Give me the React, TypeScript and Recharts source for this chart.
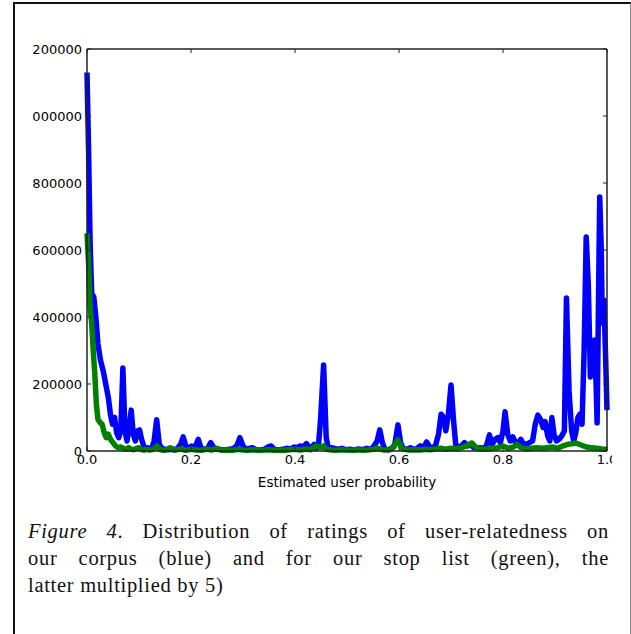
import React from 'react';
import { LineChart, Line, XAxis, YAxis } from 'recharts';

// x positions are estimated user probability, counts read off the figure
const xTicks = [0, 0.2, 0.4, 0.6, 0.8, 1.0];
const yTicks = [0, 200000, 400000, 600000, 800000, 1000000, 1200000];

const blueX = [
  0.000, 0.003, 0.006, 0.009, 0.013, 0.017, 0.021, 0.026, 0.031, 0.036,
  0.041, 0.045, 0.049, 0.053, 0.057, 0.061, 0.065, 0.069, 0.073, 0.077,
  0.081, 0.085, 0.089, 0.093, 0.097, 0.101, 0.105, 0.109, 0.113, 0.117,
  0.121, 0.125, 0.129, 0.134, 0.139, 0.144, 0.150, 0.156, 0.162, 0.168,
  0.174, 0.180, 0.185, 0.190, 0.196, 0.201, 0.207, 0.214, 0.219, 0.225,
  0.232, 0.238, 0.244, 0.250, 0.258, 0.266, 0.274, 0.282, 0.288, 0.294,
  0.300, 0.306, 0.312, 0.318, 0.325, 0.333, 0.341, 0.348, 0.354, 0.360,
  0.368, 0.376, 0.384, 0.392, 0.398, 0.404, 0.410, 0.416, 0.422, 0.428,
  0.433, 0.437, 0.441, 0.445, 0.449, 0.455, 0.460, 0.464, 0.470, 0.476,
  0.482, 0.490, 0.498, 0.506, 0.514, 0.522, 0.530, 0.538, 0.546, 0.552,
  0.558, 0.563, 0.568, 0.573, 0.580, 0.587, 0.592, 0.598, 0.603, 0.608,
  0.615, 0.622, 0.628, 0.635, 0.641, 0.646, 0.653, 0.659, 0.664, 0.670,
  0.676, 0.681, 0.686, 0.690, 0.695, 0.700, 0.705, 0.709, 0.714, 0.720,
  0.726, 0.732, 0.738, 0.744, 0.750, 0.756, 0.762, 0.768, 0.774, 0.779,
  0.785, 0.790, 0.795, 0.800, 0.804, 0.809, 0.814, 0.819, 0.824, 0.829,
  0.834, 0.839, 0.845, 0.851, 0.857, 0.862, 0.867, 0.872, 0.877, 0.881,
  0.886, 0.890, 0.894, 0.898, 0.903, 0.908, 0.913, 0.918, 0.922, 0.927,
  0.932, 0.936, 0.940, 0.944, 0.948, 0.952, 0.956, 0.960, 0.964, 0.968,
  0.972, 0.976, 0.979, 0.981, 0.984, 0.986, 0.989, 0.991, 0.994, 0.997,
  1.000,
];
const blueCounts = [
  1130000, 900000, 620000, 470000, 460000, 400000, 320000, 270000, 240000, 200000,
  160000, 110000, 80000, 100000, 55000, 40000, 60000, 248000, 60000, 30000,
  70000, 122000, 50000, 30000, 60000, 63000, 35000, 15000, 8000, 10000,
  5000, 8000, 30000, 93000, 20000, 8000, 5000, 4000, 5000, 3000,
  8000, 20000, 42000, 15000, 8000, 15000, 8000, 35000, 10000, 5000,
  8000, 25000, 10000, 5000, 4000, 3000, 5000, 8000, 15000, 40000,
  15000, 5000, 8000, 10000, 4000, 3000, 5000, 12000, 15000, 5000,
  3000, 5000, 8000, 6000, 12000, 10000, 15000, 12000, 22000, 10000,
  12000, 20000, 8000, 15000, 90000, 257000, 40000, 8000, 10000, 8000,
  5000, 8000, 4000, 5000, 3000, 6000, 4000, 8000, 5000, 15000,
  30000, 63000, 25000, 5000, 3000, 8000, 20000, 78000, 25000, 8000,
  5000, 10000, 5000, 8000, 15000, 5000, 27000, 12000, 10000, 15000,
  50000, 110000, 100000, 60000, 110000, 197000, 90000, 20000, 10000, 15000,
  25000, 15000, 18000, 10000, 8000, 10000, 8000, 15000, 48000, 20000,
  35000, 40000, 25000, 60000, 117000, 50000, 30000, 42000, 25000, 20000,
  35000, 22000, 20000, 25000, 30000, 80000, 107000, 95000, 70000, 88000,
  45000, 30000, 100000, 50000, 30000, 35000, 45000, 60000, 457000, 180000,
  60000, 30000, 55000, 100000, 110000, 80000, 300000, 639000, 500000, 221000,
  300000, 331000, 200000, 84000, 500000, 758000, 600000, 382000, 451000, 300000,
  122000,
];

// stop list, already multiplied by 5
const greenX = [
  0.000, 0.003, 0.006, 0.009, 0.012, 0.015, 0.018, 0.021, 0.025, 0.029,
  0.033, 0.037, 0.041, 0.045, 0.050, 0.055, 0.060, 0.065, 0.070, 0.075,
  0.080, 0.085, 0.090, 0.095, 0.100, 0.105, 0.110, 0.115, 0.120, 0.125,
  0.130, 0.135, 0.140, 0.145, 0.150, 0.160, 0.170, 0.180, 0.190, 0.200,
  0.210, 0.220, 0.230, 0.240, 0.250, 0.260, 0.270, 0.280, 0.290, 0.300,
  0.310, 0.320, 0.330, 0.340, 0.350, 0.360, 0.370, 0.380, 0.390, 0.400,
  0.410, 0.420, 0.430, 0.440, 0.450, 0.455, 0.460, 0.470, 0.480, 0.490,
  0.500, 0.510, 0.520, 0.530, 0.540, 0.550, 0.560, 0.570, 0.580, 0.590,
  0.598, 0.605, 0.610, 0.620, 0.630, 0.640, 0.650, 0.660, 0.670, 0.680,
  0.690, 0.700, 0.710, 0.720, 0.730, 0.740, 0.750, 0.760, 0.770, 0.780,
  0.790, 0.800, 0.810, 0.820, 0.826, 0.835, 0.845, 0.855, 0.865, 0.875,
  0.885, 0.895, 0.905, 0.915, 0.925, 0.935, 0.940, 0.950, 0.960, 0.970,
  0.980, 0.990, 1.000,
];
const greenCounts = [
  650000, 560000, 430000, 380000, 300000, 230000, 140000, 95000, 85000, 80000,
  55000, 40000, 50000, 35000, 25000, 15000, 10000, 12000, 8000, 5000,
  10000, 5000, 4000, 8000, 10000, 4000, 3000, 5000, 3000, 4000,
  8000, 15000, 5000, 3000, 2000, 10000, 3000, 6000, 2000, 5000,
  3000, 2000, 6000, 3000, 8000, 2000, 3000, 2000, 5000, 3000,
  2000, 4000, 2000, 3000, 4000, 2000, 3000, 2000, 4000, 5000,
  3000, 6000, 4000, 15000, 10000, 15000, 5000, 3000, 2000, 4000,
  3000, 2000, 4000, 2000, 3000, 5000, 8000, 3000, 4000, 12000,
  33000, 10000, 5000, 3000, 4000, 3000, 5000, 4000, 6000, 8000,
  5000, 8000, 6000, 10000, 15000, 24000, 8000, 5000, 6000, 8000,
  10000, 15000, 8000, 12000, 20000, 10000, 6000, 8000, 10000, 8000,
  10000, 12000, 8000, 15000, 20000, 22000, 24000, 18000, 12000, 10000,
  8000, 6000, 5000,
];

const corpusData = blueX.map((x, i) => ({ x, y: blueCounts[i] }));
const stopData = greenX.map((x, i) => ({ x, y: greenCounts[i] }));

const frame = '#222';
const tickFont = { fontFamily: '"DejaVu Sans", sans-serif', fontSize: 13, fill: '#000' };

export default function App() {
  return (
    <>
      <div
        style={{
          position: 'absolute',
          left: 13,
          top: 2,
          width: 615,
          height: 632,
          borderLeft: '2px solid #111',
          borderTop: '2px solid #111',
          borderRight: '1px solid #888',
          background: '#fff',
        }}
      />
      <div style={{ position: 'absolute', left: 33, top: 20, width: 579, height: 480, overflow: 'hidden' }}>
        <div style={{ position: 'absolute', left: -33, top: -20 }}>
          <LineChart width={631} height={500} margin={{ top: 48, right: 23, left: 0, bottom: 9 }}>
            <XAxis
              xAxisId="b"
              dataKey="x"
              type="number"
              domain={[0, 1]}
              ticks={xTicks}
              interval={0}
              tickFormatter={(v: number) => v.toFixed(1)}
              tickSize={-4}
              tickMargin={8}
              height={40}
              axisLine={{ stroke: frame, strokeWidth: 1.5 }}
              tickLine={{ stroke: frame }}
              tick={tickFont}
              label={{
                value: 'Estimated user probability',
                position: 'insideBottom',
                offset: 4,
                style: { fontFamily: '"DejaVu Sans", sans-serif', fontSize: 13.5, fill: '#000' },
              }}
            />
            <XAxis
              xAxisId="t"
              orientation="top"
              dataKey="x"
              type="number"
              domain={[0, 1]}
              ticks={xTicks}
              interval={0}
              tickFormatter={() => ''}
              tickSize={-4}
              height={1}
              axisLine={{ stroke: frame, strokeWidth: 1.5 }}
              tickLine={{ stroke: frame }}
            />
            <YAxis
              yAxisId="l"
              type="number"
              domain={[0, 1200000]}
              ticks={yTicks}
              interval={0}
              tickSize={-4}
              tickMargin={9}
              width={87}
              axisLine={{ stroke: frame, strokeWidth: 1.5 }}
              tickLine={{ stroke: frame }}
              tick={tickFont}
            />
            <YAxis
              yAxisId="r"
              orientation="right"
              type="number"
              domain={[0, 1200000]}
              ticks={yTicks}
              interval={0}
              tickFormatter={() => ''}
              tickSize={-4}
              width={1}
              axisLine={{ stroke: frame, strokeWidth: 1.5 }}
              tickLine={{ stroke: frame }}
            />
            <Line
              xAxisId="b"
              yAxisId="l"
              data={corpusData}
              dataKey="y"
              type="linear"
              stroke="#0000ff"
              strokeWidth={5.5}
              strokeLinejoin="round"
              dot={false}
              isAnimationActive={false}
            />
            {/* same domains as b/l, tied to the top and right axes so they render */}
            <Line
              xAxisId="t"
              yAxisId="r"
              data={stopData}
              dataKey="y"
              type="linear"
              stroke="#008000"
              strokeWidth={5.5}
              strokeLinejoin="round"
              dot={false}
              isAnimationActive={false}
            />
          </LineChart>
        </div>
      </div>
      <div
        style={{
          position: 'absolute',
          left: 28,
          top: 518,
          width: 581,
          fontFamily: '"Liberation Serif", serif',
          fontSize: 20.5,
          letterSpacing: 0.7,
          lineHeight: '27px',
          color: '#111',
        }}
      >
        <div style={{ textAlign: 'justify', textAlignLast: 'justify' }}>
          <i>Figure 4</i>. Distribution of ratings of user-relatedness on
        </div>
        <div style={{ textAlign: 'justify', textAlignLast: 'justify' }}>
          our corpus (blue) and for our stop list (green), the
        </div>
        <div>latter multiplied by 5)</div>
      </div>
    </>
  );
}
